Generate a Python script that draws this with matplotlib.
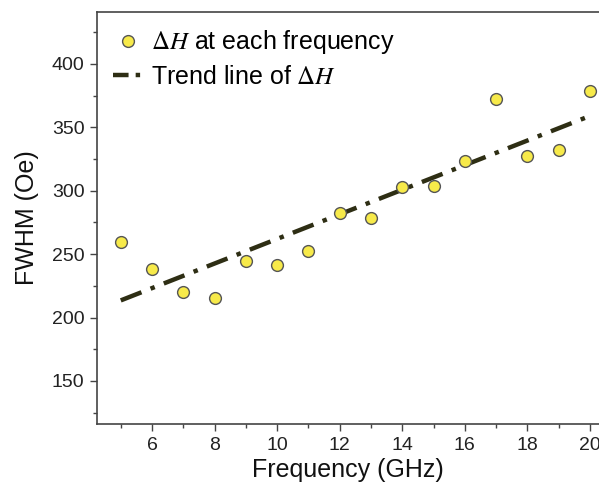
import numpy as np
import matplotlib
matplotlib.use('Agg')
import matplotlib.pyplot as plt
from matplotlib.ticker import MultipleLocator

plt.rcParams['font.family'] = ['Liberation Sans', 'DejaVu Sans']
plt.rcParams['mathtext.fontset'] = 'stix'

# data
freq = [5, 6, 7, 8, 9, 10, 11, 12, 13, 14, 15, 16, 17, 18, 19, 20]
fwhm = [259.6, 238.3, 219.9, 215.1, 244.9, 241.7, 252.5, 282.5,
        278.5, 302.7, 303.5, 323.2, 372.6, 327.4, 332.4, 378.4]
trend_freq = [5, 20]
trend_fwhm = [213.5, 359.0]

fig = plt.figure(figsize=(5.99, 4.91), dpi=100)
ax = fig.add_axes([97/599, 1-424/491, 1-97/599, (424-12)/491])

ax.plot(freq, fwhm, 'o', ms=8.5, mfc='#f7ea4a', mec='#555555', mew=1.0,
        label=r'$\Delta H$ at each frequency', zorder=3)
ax.plot(trend_freq, trend_fwhm, color='#2e2e14', lw=3.2,
        dashes=(5, 2.2, 1, 2.2), label=r'Trend line of $\Delta H$', zorder=2)

ax.set_xlim(4.24, 20.29)
ax.set_ylim(116, 441)
ax.xaxis.set_major_locator(MultipleLocator(2))
ax.xaxis.set_minor_locator(MultipleLocator(1))
ax.yaxis.set_major_locator(MultipleLocator(50))
ax.yaxis.set_minor_locator(MultipleLocator(25))
ax.set_yticks([150, 200, 250, 300, 350, 400])

for s in ['left', 'bottom', 'top']:
    ax.spines[s].set_color('#444444')
    ax.spines[s].set_linewidth(1.2)
ax.spines['right'].set_visible(False)
ax.tick_params(which='major', direction='out', length=5, width=1, colors='#444444',
               labelcolor='#222222', labelsize=14, pad=4)
ax.tick_params(which='minor', direction='out', length=3, width=1, colors='#444444')

ax.set_xlabel('Frequency (GHz)', fontsize=18, color='#111111', labelpad=3)
ax.set_ylabel('FWHM (Oe)', fontsize=18, color='#111111', labelpad=9)

leg = ax.legend(loc='upper left', frameon=False, fontsize=18, handlelength=1.15,
                handletextpad=0.35, borderaxespad=0.35, borderpad=0.3,
                labelspacing=0.35, bbox_to_anchor=(0.0, 1.0))
# shorter dash pattern so the legend handle shows dash + dot
leg.get_lines()[1].set_dashes((3.5, 1.6, 1, 1.6))

plt.savefig('out.png', dpi=100)
